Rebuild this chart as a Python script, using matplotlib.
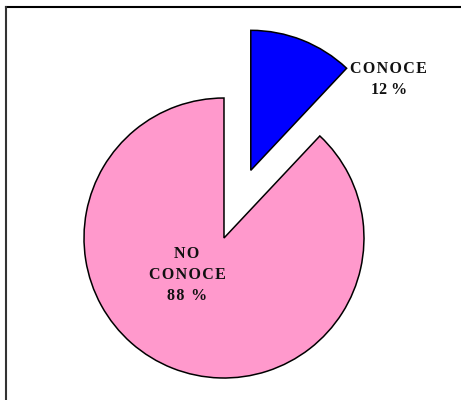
import numpy as np
import matplotlib.pyplot as plt
from matplotlib.lines import Line2D

# Survey answers
labels = ["CONOCE", "NO CONOCE"]
values = [12, 88]
colors = ["#0000FF", "#FF99CC"]
explode = [0.52, 0]

fig = plt.figure(figsize=(4.61, 4.00), dpi=100)
ax = fig.add_axes([0, 0, 1, 1])

wedges, _ = ax.pie(values, colors=colors, explode=explode, startangle=90,
                   counterclock=False, radius=1.0,
                   wedgeprops=dict(edgecolor="black", linewidth=1.1))

ax.set_xlim(-1.6, 1.693)
ax.set_ylim(-1.157, 1.7)
ax.set_aspect("equal")
ax.axis("off")

font = dict(family="Liberation Serif", fontweight="bold", fontsize=11.5,
            color="#111111", ha="center", va="center", linespacing=1.4)


def spaced(s):
    # widen the letters a little, like the tracking on the labels
    return "\u200a".join(s)


# label for the pulled-out slice sits just right of its outer corner
blue = wedges[0]
cx, cy = blue.center
a = np.deg2rad(blue.theta1)
ax.text(cx + np.cos(a) + 0.3, cy + np.sin(a) - 0.08,
        spaced("CONOCE") + "\n%d %%" % values[0], **font)

ax.text(-0.264, -0.264,
        "\n".join([spaced("NO"), spaced("CONOCE"), spaced("%d %%" % values[1])]),
        **font)

# frame lines along the top and left edges
fig.add_artist(Line2D([0.012, 1.0], [0.982, 0.982], transform=fig.transFigure,
                      color="black", linewidth=1.5))
fig.add_artist(Line2D([0.012, 0.012], [0.0, 0.982], transform=fig.transFigure,
                      color="#333333", linewidth=1.5))

fig.savefig("out.png", dpi=100)
